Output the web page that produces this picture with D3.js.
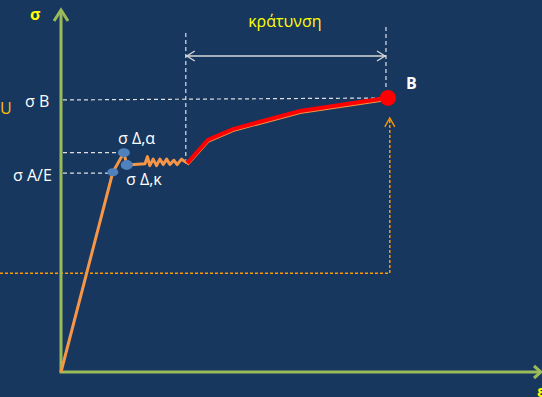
<!DOCTYPE html>
<html>
<head>
<meta charset="utf-8">
<script src="https://cdn.jsdelivr.net/npm/d3@7"></script>
<style>
  html, body { margin: 0; padding: 0; background: #17375E; overflow: hidden; }
  svg { display: block; }
  text { font-family: "Open Sans", "Noto Sans", sans-serif; }
</style>
</head>
<body>
<svg id="chart" width="542" height="397"></svg>
<script>
// Stress–strain diagram (σ–ε), arbitrary units 0..100 on both axes.
const elasticPart = [[0, 0], [10.8, 55.2], [13.1, 60.6], [13.7, 57.2]];
const yieldPlateau = [
  [13.7, 57.2], [17.5, 57.5], [18.0, 59.5], [18.5, 57.0], [19.2, 58.8], [19.9, 57.0],
  [20.6, 58.8], [21.3, 57.3], [22.0, 58.8], [22.7, 57.3], [23.5, 58.5], [24.2, 57.3],
  [25.1, 58.8], [26.3, 57.7]
];
const hardening = [[26.3, 57.7], [30.6, 64.1], [35.8, 67.1], [49.8, 72.1], [67.9, 75.7]];
const keyPoints = [
  { name: "A/E", x: 10.8, y: 55.2 },
  { name: "Δ,α", x: 13.1, y: 60.6 },
  { name: "Δ,κ", x: 13.7, y: 57.2 }
];
const pointB = { x: 67.9, y: 75.7 };
const stressTicks = [
  { label: "σ B", y: 75.7, x0: 25 },
  { label: "σ A/E", y: 55.2, x0: 13 }
];
const hardeningSpan = { x0: 26.0, x1: 67.7, y: 87.3, label: "κράτυνση" };
const markerLevel = { y: 27.3, x: 68.5, yTop: 70.2 };

const svg = d3.select("#chart");
const x = d3.scaleLinear().domain([0, 100]).range([61, 541]);
const y = d3.scaleLinear().domain([0, 100]).range([372, 10]);

const green = "#9BBB59", orange = "#F79646", white = "#FFFFFF", yellow = "#FFFF00";
const line = d3.line().x(d => x(d[0])).y(d => y(d[1]));

// Orange reference marker (dashed level + arrow up to B)
svg.append("path")
  .attr("d", `M0,${y(markerLevel.y)}H${x(markerLevel.x)}V${y(markerLevel.yTop)}`)
  .attr("fill", "none").attr("stroke", "#FF9900").attr("stroke-width", 1.5)
  .attr("stroke-dasharray", "3,2");
svg.append("path")
  .attr("d", `M${x(markerLevel.x) - 5},${y(markerLevel.yTop) + 9}L${x(markerLevel.x)},${y(markerLevel.yTop)}L${x(markerLevel.x) + 5},${y(markerLevel.yTop) + 9}`)
  .attr("fill", "none").attr("stroke", "#FF9900").attr("stroke-width", 1.3);

// Axes
svg.append("line").attr("x1", x(0)).attr("y1", y(0)).attr("x2", x(0)).attr("y2", 10)
  .attr("stroke", green).attr("stroke-width", 3);
svg.append("line").attr("x1", x(0) - 1.5).attr("y1", y(0)).attr("x2", 540).attr("y2", y(0))
  .attr("stroke", green).attr("stroke-width", 3);
svg.append("path").attr("d", `M${x(0) - 7},${21}L${x(0)},${10}L${x(0) + 7},${21}`)
  .attr("fill", "none").attr("stroke", green).attr("stroke-width", 3);
svg.append("path").attr("d", `M534,${y(0) - 6}L541,${y(0)}L534,${y(0) + 6}`)
  .attr("fill", "none").attr("stroke", green).attr("stroke-width", 3);

// Dashed guide lines to the stress axis
const guide = (x1, y1, x2, y2) => svg.append("line")
  .attr("x1", x1).attr("y1", y1).attr("x2", x2).attr("y2", y2)
  .attr("stroke", "#E0E0E0").attr("stroke-width", 1.2).attr("stroke-dasharray", "4,3");
guide(x(0) + 2, y(pointB.y) + 2, x(pointB.x), y(pointB.y));
guide(x(0) + 2, y(keyPoints[1].y), x(keyPoints[1].x), y(keyPoints[1].y));
guide(x(0) + 2, y(keyPoints[0].y) + 1, x(keyPoints[0].x), y(keyPoints[0].y) + 1);

// Hardening span
guide(x(hardeningSpan.x0), 33, x(hardeningSpan.x0), y(58.6));
guide(x(hardeningSpan.x1), 27, x(hardeningSpan.x1), 88);
svg.append("line")
  .attr("x1", x(hardeningSpan.x0)).attr("x2", x(hardeningSpan.x1))
  .attr("y1", y(hardeningSpan.y)).attr("y2", y(hardeningSpan.y))
  .attr("stroke", "#D9D9D9").attr("stroke-width", 1.5);
svg.append("path")
  .attr("d", `M${x(hardeningSpan.x0) + 9},${y(hardeningSpan.y) - 5}L${x(hardeningSpan.x0) + 1},${y(hardeningSpan.y)}L${x(hardeningSpan.x0) + 9},${y(hardeningSpan.y) + 5}` +
             `M${x(hardeningSpan.x1) - 9},${y(hardeningSpan.y) - 5}L${x(hardeningSpan.x1) - 1},${y(hardeningSpan.y)}L${x(hardeningSpan.x1) - 9},${y(hardeningSpan.y) + 5}`)
  .attr("fill", "none").attr("stroke", "#D9D9D9").attr("stroke-width", 1.3);
svg.append("text").attr("x", (x(hardeningSpan.x0) + x(hardeningSpan.x1)) / 2 - 1).attr("y", 27)
  .attr("text-anchor", "middle").attr("fill", yellow).attr("font-size", 16)
  .text(hardeningSpan.label);

// Curve: elastic + yield plateau (orange), hardening (red)
svg.append("path").datum(elasticPart.concat(yieldPlateau.slice(1)))
  .attr("d", line).attr("fill", "none").attr("stroke", orange)
  .attr("stroke-width", 3).attr("stroke-linejoin", "round");
svg.append("path").datum(hardening.map(d => [d[0], d[1] - 0.4]))
  .attr("d", line).attr("fill", "none").attr("stroke", orange).attr("stroke-width", 3);
svg.append("path").datum(hardening)
  .attr("d", line).attr("fill", "none").attr("stroke", "#FF0000").attr("stroke-width", 4);

// Key points
const radii = { "A/E": [5.5, 4], "Δ,α": [6, 4.5], "Δ,κ": [6, 5] };
svg.selectAll("ellipse.kp").data(keyPoints).join("ellipse")
  .attr("class", "kp")
  .attr("cx", d => x(d.x)).attr("cy", d => y(d.y))
  .attr("rx", d => radii[d.name][0]).attr("ry", d => radii[d.name][1])
  .attr("fill", "#4F81BD");
svg.append("circle").attr("cx", x(pointB.x) + 1).attr("cy", y(pointB.y))
  .attr("r", 8).attr("fill", "#FF0000");

// Labels
svg.append("text").attr("x", 406).attr("y", 89).attr("fill", white)
  .attr("font-size", 16).attr("font-weight", "bold").text("B");
svg.append("text").attr("x", 118).attr("y", 144).attr("fill", white)
  .attr("font-size", 16).text("σ Δ,α");
svg.append("text").attr("x", 126).attr("y", 185).attr("fill", white)
  .attr("font-size", 16).text("σ Δ,κ");
svg.selectAll("text.tick").data(stressTicks).join("text")
  .attr("class", "tick")
  .attr("x", d => d.x0).attr("y", d => y(d.y) + 9)
  .attr("fill", white).attr("font-size", 16)
  .text(d => d.label);

svg.append("text").attr("x", 30).attr("y", 20).attr("fill", yellow)
  .attr("font-size", 16).attr("font-weight", "bold").text("σ");
svg.append("text").attr("x", 0).attr("y", 114).attr("fill", "#FFC000")
  .attr("font-size", 16).text("U");
svg.append("text").attr("x", 537).attr("y", 397).attr("fill", yellow)
  .attr("font-size", 16).attr("font-weight", "bold").text("ε");
</script>
</body>
</html>
